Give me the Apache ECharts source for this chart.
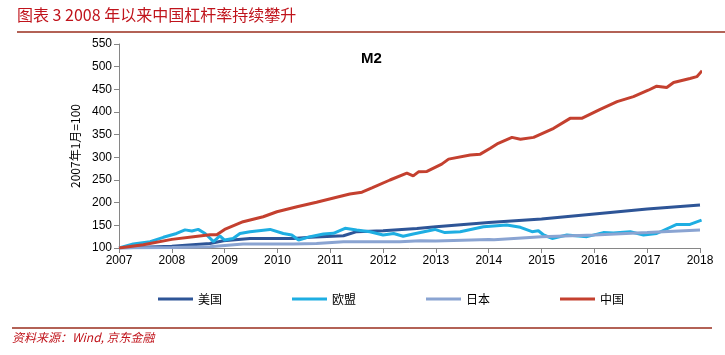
<!DOCTYPE html>
<html>
<head>
<meta charset="utf-8">
<script src="https://cdn.jsdelivr.net/npm/echarts@6/dist/echarts.min.js"></script>
<style>
html,body{margin:0;padding:0;background:#fff;}
#c{width:725px;height:355px;}
</style>
</head>
<body>
<div id="c"></div>
<script>
// Data (decimal year, index 2007-01 = 100)
const seriesNames = ['美国', '欧盟', '日本', '中国'];
const usYears = [2007, 2008.0, 2008.72, 2008.98, 2009.48, 2010.3, 2010.62, 2011.25, 2011.5, 2012.0, 2012.64, 2013.0, 2014.0, 2015.0, 2016.0, 2017.0, 2018.0];
const usVals  = [100, 104, 110, 116, 121, 121, 123.5, 127, 136, 138, 143, 147, 156, 164, 175, 186, 195];
const euYears = [2007, 2007.27, 2007.59, 2007.84, 2008.09, 2008.25, 2008.38, 2008.5, 2008.63, 2008.79, 2008.91, 2009.0, 2009.16, 2009.29, 2009.48, 2009.86, 2010.11, 2010.27, 2010.4, 2010.62, 2010.87, 2011.06, 2011.28, 2011.5, 2011.75, 2012.0, 2012.2, 2012.38, 2012.57, 2012.98, 2013.17, 2013.46, 2013.9, 2014.34, 2014.6, 2014.82, 2014.94, 2015.04, 2015.2, 2015.48, 2015.86, 2016.17, 2016.36, 2016.68, 2016.93, 2017.18, 2017.56, 2017.81, 2018.03];
const euVals  = [100, 109, 114, 123.6, 132, 140, 137.5, 141, 132, 114, 126.5, 117.6, 121, 132, 136, 141, 132, 128.7, 117.6, 125, 131, 132.4, 143.4, 139.7, 136, 128.7, 132, 126, 131, 141, 134, 136, 147, 150.7, 145.6, 136, 138, 128.7, 121, 128.7, 125, 134, 133, 136, 128.7, 132, 152, 152, 161.7];
const jpYears = [2007, 2008.0, 2008.72, 2009.35, 2010.3, 2010.74, 2011.25, 2012.32, 2012.7, 2013.0, 2014.0, 2014.1, 2015.0, 2016.0, 2017.0, 2018.0];
const jpVals  = [100, 101, 103, 109, 109, 110, 114, 114, 116, 115.5, 119, 118, 125, 128.7, 134, 139.7];
const cnYears = [2007, 2007.46, 2008.0, 2008.41, 2008.72, 2008.85, 2009.0, 2009.35, 2009.73, 2009.99, 2010.37, 2010.74, 2011.12, 2011.37, 2011.6, 2011.8, 2012.13, 2012.45, 2012.57, 2012.67, 2012.83, 2013.11, 2013.24, 2013.65, 2013.84, 2014.03, 2014.18, 2014.44, 2014.6, 2014.85, 2015.23, 2015.54, 2015.76, 2016.11, 2016.43, 2016.74, 2017.02, 2017.18, 2017.37, 2017.5, 2017.81, 2017.94, 2018.04];
const cnVals  = [100, 107, 119, 125, 129, 129, 141, 158, 169, 180, 191, 201, 212, 219, 223, 233, 250, 265, 259, 268, 269, 285, 296, 305, 307, 320, 331, 344, 340, 344, 364, 386, 386, 406, 423, 434, 448, 457, 454, 465, 474, 478, 491];
const yearTicks = [2007, 2008, 2009, 2010, 2011, 2012, 2013, 2014, 2015, 2016, 2017, 2018];

const colors = ['#2E5597', '#1EAEE2', '#8AA4D2', '#C4402F'];
const xs = [usYears, euYears, jpYears, cnYears];
const ys = [usVals, euVals, jpVals, cnVals];

const chart = echarts.init(document.getElementById('c'), null, {renderer: 'canvas'});
const series = seriesNames.map((n, i) => ({
  name: n,
  type: 'line',
  data: xs[i].map((x, k) => [x, ys[i][k]]),
  showSymbol: false,
  symbol: 'none',
  lineStyle: {color: colors[i], width: 3},
  itemStyle: {color: colors[i]},
  z: i === 3 ? 5 : 3,
  animation: false
}));

chart.setOption({
  animation: false,
  backgroundColor: '#fff',
  grid: {left: 119, right: 25, top: 44, height: 204},
  legend: {
    data: seriesNames,
    left: 153, top: 288,
    icon: 'rect', itemWidth: 35, itemHeight: 3, itemGap: 70,
    textStyle: {fontFamily: 'Noto Sans CJK SC', fontSize: 12, color: '#000'}
  },
  xAxis: {
    type: 'value', min: 2007, max: 2018, interval: 1,
    splitLine: {show: false},
    axisLine: {lineStyle: {color: '#868686', width: 1}},
    axisTick: {show: true, length: 5, lineStyle: {color: '#868686'}},
    axisLabel: {color: '#000', fontFamily: 'Liberation Sans', fontSize: 12, margin: 7,
      formatter: v => yearTicks.includes(v) ? String(v) : ''}
  },
  yAxis: {
    type: 'value', min: 100, max: 550, interval: 50,
    name: '2007年1月=100', nameLocation: 'middle', nameRotate: 90, nameGap: 32,
    nameTextStyle: {color: '#000', fontFamily: 'Noto Sans CJK SC', fontSize: 12},
    splitLine: {show: false},
    axisLine: {show: true, lineStyle: {color: '#868686', width: 1}},
    axisTick: {show: true, length: 5, lineStyle: {color: '#868686'}},
    axisLabel: {color: '#000', fontFamily: 'Liberation Sans', fontSize: 12, margin: 7}
  },
  graphic: [
    {type: 'text', left: 17, top: 7, style: {text: '图表 3 2008 年以来中国杠杆率持续攀升', fill: '#C0141C', font: '16px "Noto Sans CJK SC"'}},
    {type: 'line', shape: {x1: 17, y1: 32, x2: 725, y2: 32}, style: {stroke: '#9A2E1E', lineWidth: 1.5}},
    {type: 'text', left: 361, top: 51, style: {text: 'M2', fill: '#000', font: 'bold 15px "Liberation Sans"'}},
    {type: 'line', shape: {x1: 12, y1: 328, x2: 712, y2: 328}, style: {stroke: '#9A2E1E', lineWidth: 1.5}},
    {type: 'text', left: 12, top: 331, style: {text: '资料来源：Wind, 京东金融', fill: '#C0141C', font: 'italic 12px "Noto Sans CJK SC"'}}
  ],
  series: series
});
</script>
</body>
</html>
